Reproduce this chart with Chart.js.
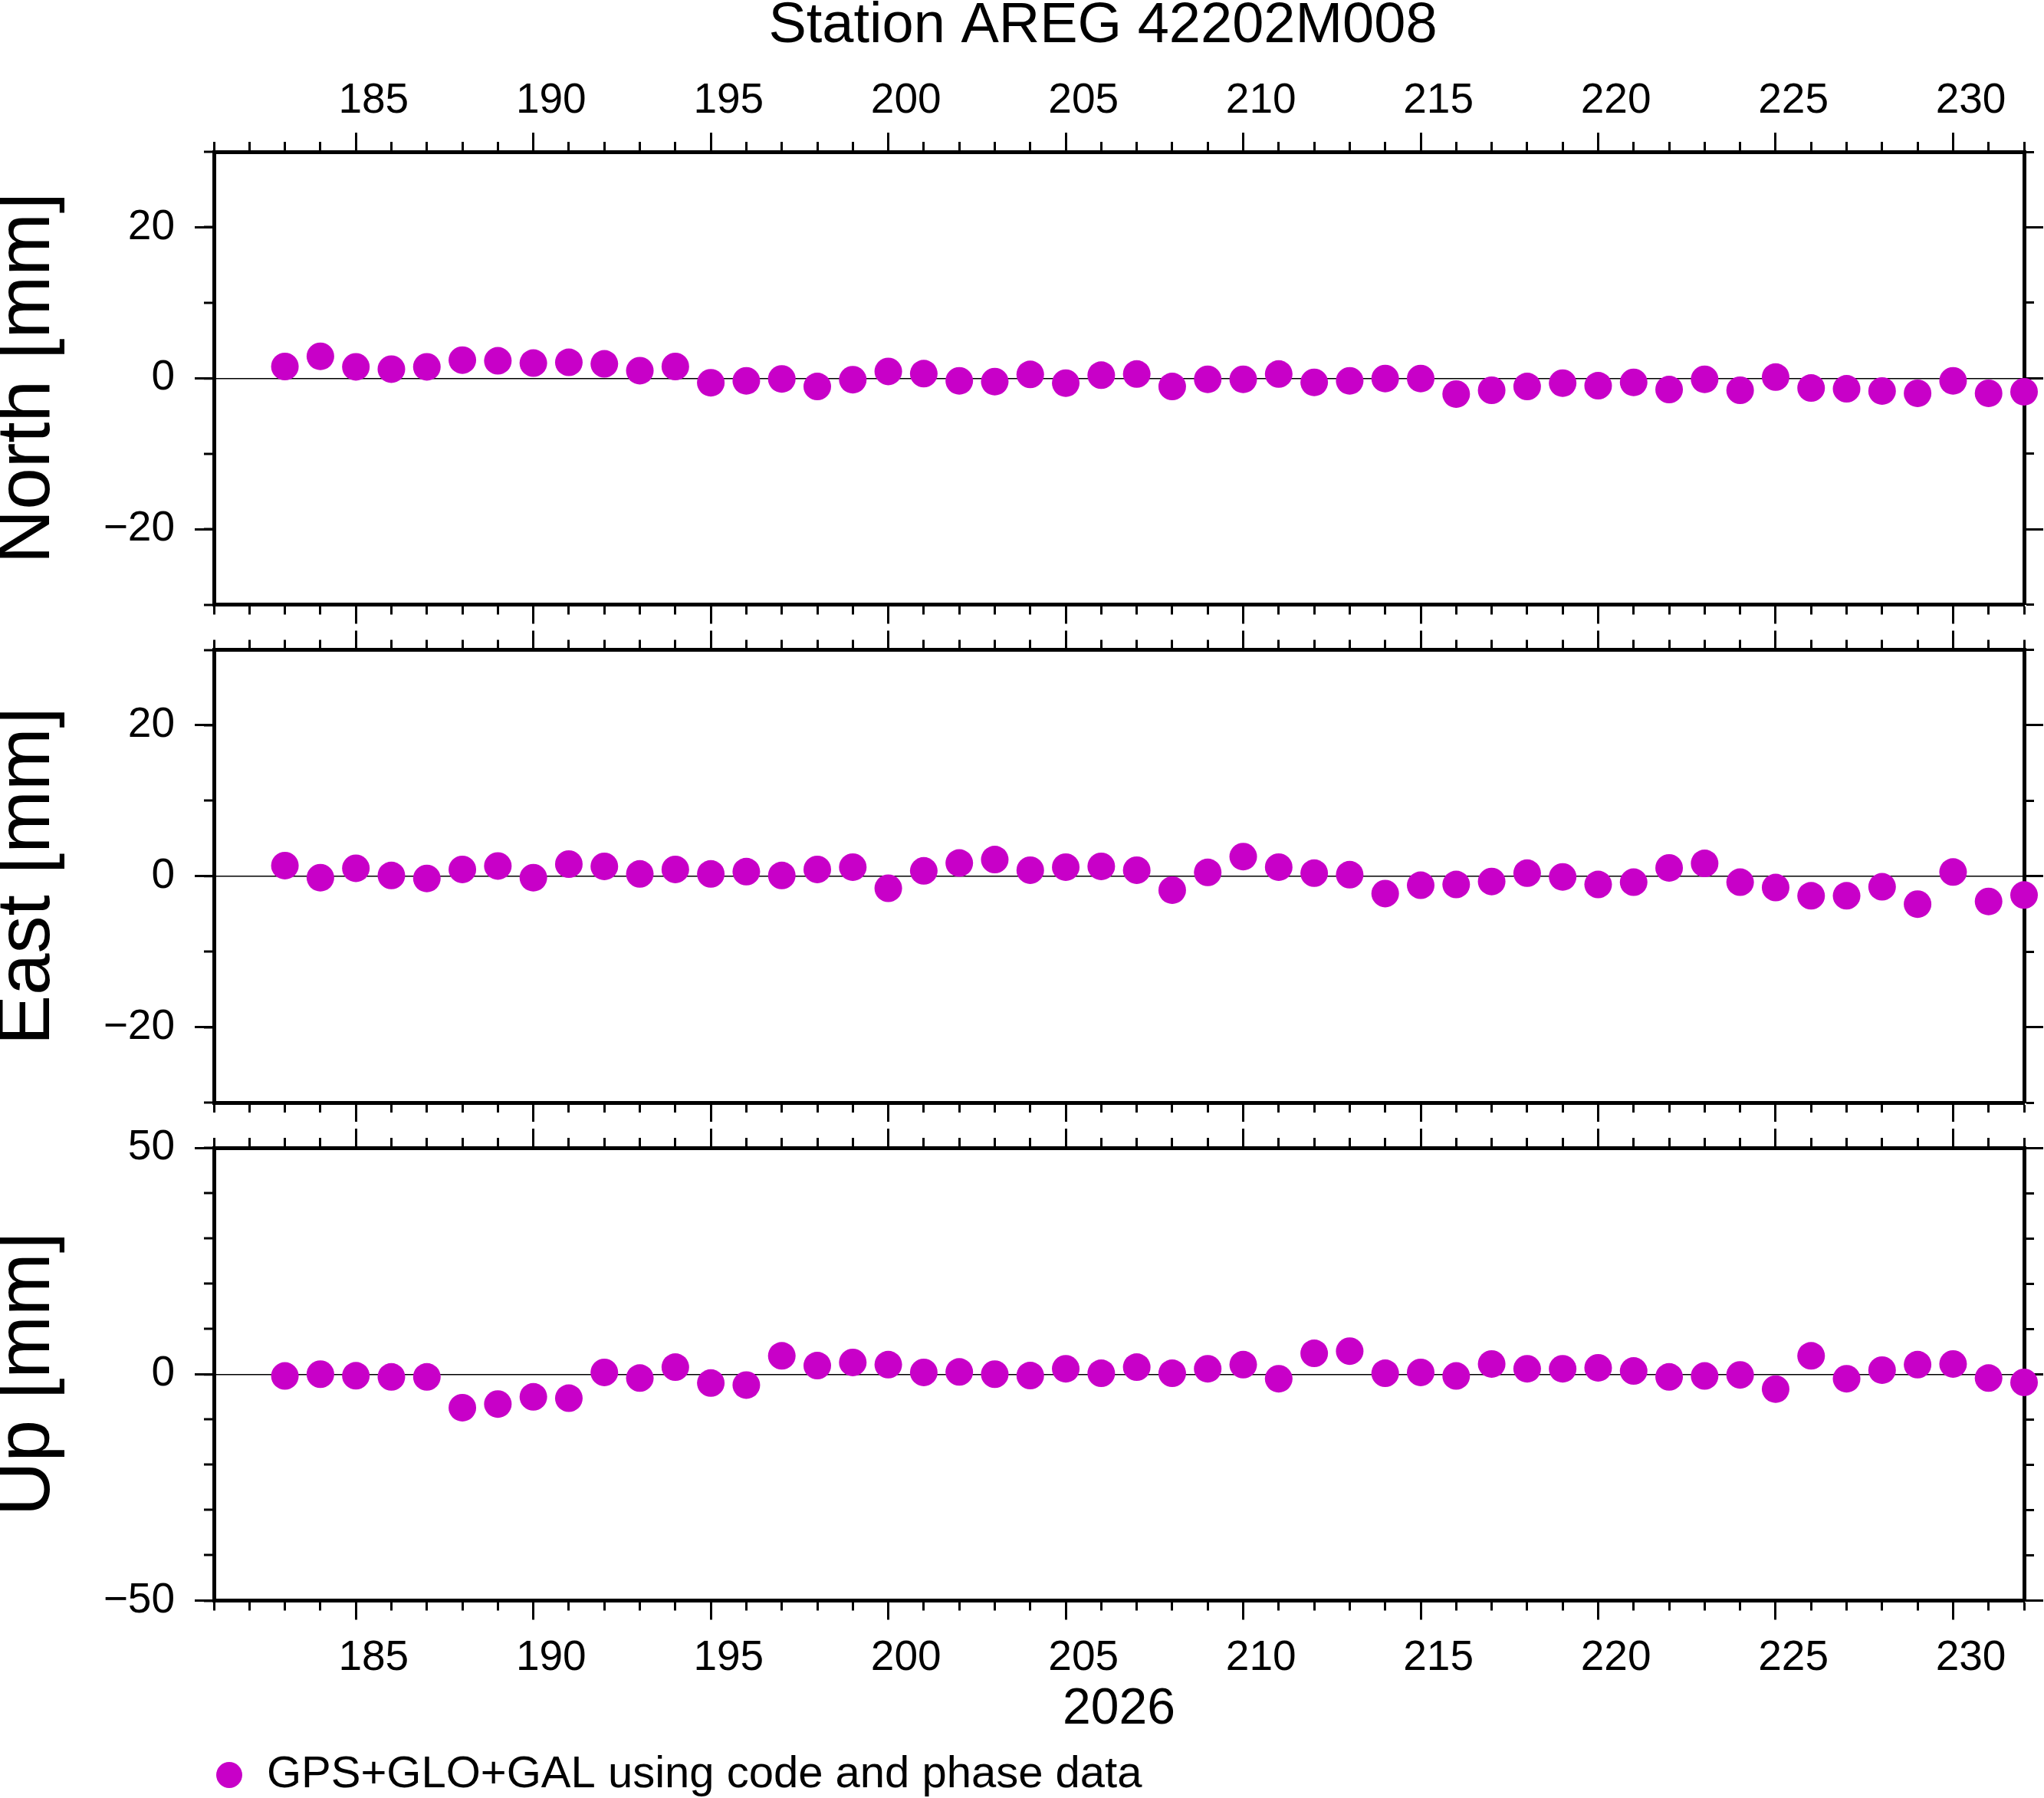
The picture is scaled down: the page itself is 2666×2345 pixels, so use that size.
<!DOCTYPE html>
<html>
<head>
<meta charset="utf-8">
<title>Station AREG 42202M008</title>
<script src="https://cdn.jsdelivr.net/npm/chart.js@4.4.1/dist/chart.umd.min.js"></script>
<style>
html,body{margin:0;padding:0;background:#fff;overflow:hidden}
#page{position:relative;width:2666px;height:2345px;overflow:hidden;background:#fff}
canvas{position:absolute;left:0}
</style>
</head>
<body>
<div id="page">
<canvas id="north" width="2877" height="830" style="top:0;width:2877px;height:830px"></canvas>
<canvas id="east" width="2877" height="680" style="top:800px;width:2877px;height:680px"></canvas>
<canvas id="up" width="2877" height="914" style="top:1440px;width:2877px;height:914px"></canvas>
</div>
<script>
const title="Station AREG 42202M008";
const yearLabel="2026";
const seriesLabel="GPS+GLO+GAL using code and phase data";

// day of year of each daily solution
const days=[183,184,185,186,187,188,189,190,191,192,193,194,195,196,197,198,199,200,201,202,203,204,205,206,207,
  208,209,210,211,212,213,214,215,216,217,218,219,220,221,222,223,224,225,226,227,228,229,230,231,232];

// mm
const north=[1.55,2.9,1.5,1.2,1.5,2.4,2.3,2.0,2.1,1.9,1.0,1.55,-0.6,-0.35,-0.1,-1.1,-0.2,0.9,0.6,-0.35,-0.45,0.5,
  -0.65,0.4,0.55,-1.1,-0.15,-0.15,0.55,-0.55,-0.35,-0.05,-0.05,-2.1,-1.6,-1.1,-0.65,-1.0,-0.55,-1.5,-0.15,-1.6,
  0.15,-1.3,-1.4,-1.7,-2.0,-0.35,-2.0,-1.8];
const east=[1.4,-0.2,1.05,0.1,-0.3,0.9,1.35,-0.2,1.6,1.3,0.3,0.9,0.3,0.6,0.1,0.9,1.2,-1.6,0.7,1.75,2.2,0.8,
  1.2,1.3,0.8,-1.85,0.5,2.6,1.2,0.4,0.2,-2.3,-1.2,-1.1,-0.7,0.4,-0.1,-1.1,-0.8,1.1,1.7,-0.8,-1.5,-2.6,-2.6,-1.4,
  -3.7,0.55,-3.35,-2.5];
const up=[-0.4,0,-0.35,-0.6,-0.6,-7.4,-6.6,-5.0,-5.3,0.4,-0.85,1.55,-1.95,-2.4,4.05,1.9,2.6,2.1,0.4,0.5,0,-0.3,
  1.2,0.2,1.55,0.2,1.2,2.1,-1.0,4.6,5.1,0.2,0.4,-0.4,2.25,1.2,1.2,1.4,0.7,-0.6,-0.4,-0.15,-3.3,4.05,-1.0,0.9,
  2.1,2.25,-0.85,-1.8];

const dayLabels=[185,190,195,200,205,210,215,220,225,230];
const neTicks=[-20,0,20];
const upTicks=[-50,0,50];

const COLOR="#c800c8";
const DAY_MIN=181, DAY_MAX=232;
const CW=2877, PLOT_L=279, PLOT_R=2640;

Chart.defaults.font.family="'Liberation Sans', Arial, Helvetica, sans-serif";
Chart.defaults.color="#000";

const minus=v=>v<0?"\u2212"+(-v):String(v);
// fixed box size, and no label overflow padding pushed into the layout
const fix=(k,v)=>s=>{s[k]=v;s.paddingLeft=s.paddingRight=s.paddingTop=s.paddingBottom=0};
const tickGrid=len=>({drawOnChartArea:false,tickLength:len,tickWidth:3,tickColor:"#000"});
const frame={display:true,width:5,color:"#000"};

function frameAxes(p){
  const s={};
  const xb={type:"linear",min:DAY_MIN,max:DAY_MAX};
  ["bottom","top"].forEach(pos=>{
    const t=pos==="top"?"T":"B", h=p[pos];
    s[pos==="bottom"?"x":"xMin"+t]={...xb,position:pos,weight:0,
      ticks:{stepSize:1,display:false,autoSkip:false},
      grid:tickGrid(13),border:frame,afterFit:fix("height",0)};
    s["xMaj"+t]={...xb,position:pos,weight:1,
      afterBuildTicks:a=>{a.ticks=dayLabels.map(v=>({value:v}))},
      ticks:{display:false,autoSkip:false},
      grid:tickGrid(25),border:{display:false},afterFit:fix("height",h.major)};
    if(h.label){
      // GMT puts the day number in the middle of the day
      s["xLab"+t]={...xb,position:pos,weight:2,
        afterBuildTicks:a=>{a.ticks=dayLabels.map(v=>({value:v+0.5}))},
        ticks:{autoSkip:false,maxRotation:0,minRotation:0,padding:h.pad,
          font:{size:55,lineHeight:1},callback:(v,i)=>String(dayLabels[i])},
        grid:{display:false,drawTicks:false},border:{display:false},
        title:h.title?{display:true,text:h.title,font:{size:66,lineHeight:1},padding:{top:0,bottom:h.titlePad}}:{display:false},
        afterFit:fix("height",h.label)};
    }
  });
  const yb={type:"linear",min:p.yMin,max:p.yMax};
  s.y={...yb,position:"left",weight:0,ticks:{stepSize:10,display:false},
    grid:{drawOnChartArea:true,tickLength:13,tickWidth:3,tickColor:"#000",
      color:c=>c.tick&&c.tick.value===0?"#000":"rgba(0,0,0,0)",
      lineWidth:c=>c.tick&&c.tick.value===0?1.5:0},
    border:frame,afterFit:fix("width",0)};
  s.yMajL={...yb,position:"left",weight:1,
    afterBuildTicks:a=>{a.ticks=p.yTicks.map(v=>({value:v}))},
    ticks:{padding:26,font:{size:55,lineHeight:1},callback:v=>minus(v)},
    grid:tickGrid(25),border:{display:false},
    title:{display:true,text:p.yTitle,font:{size:98,lineHeight:0.76},padding:0},
    afterFit:fix("width",PLOT_L)};
  s.yMinR={...yb,position:"right",weight:0,ticks:{stepSize:10,display:false},
    grid:tickGrid(13),border:frame,afterFit:fix("width",0)};
  s.yMajR={...yb,position:"right",weight:1,
    afterBuildTicks:a=>{a.ticks=p.yTicks.map(v=>({value:v}))},
    ticks:{display:false},grid:tickGrid(25),border:{display:false},
    afterFit:fix("width",CW-PLOT_R)};
  return s;
}

function panel(id,values,p){
  return new Chart(document.getElementById(id),{
    type:"scatter",
    data:{datasets:[{
      label:seriesLabel,
      data:days.map((d,i)=>({x:d,y:values[i]})),
      backgroundColor:COLOR,borderColor:COLOR,borderWidth:0,
      pointRadius:18,pointHoverRadius:18,clip:false
    }]},
    options:{
      responsive:false,animation:false,events:[],
      layout:{padding:0,autoPadding:false},
      plugins:{
        legend:p.legend||{display:false},
        title:p.title||{display:false},
        tooltip:{enabled:false}
      },
      scales:frameAxes(p)
    }
  });
}

panel("north",north,{
  yMin:-30,yMax:30,yTicks:neTicks,yTitle:"North [mm]",
  top:{major:0,label:133.8,pad:38.5},
  bottom:{major:41.5},
  title:{display:true,text:title,font:{size:74,lineHeight:0.8,weight:"normal"},padding:{top:5,bottom:0},color:"#000"}
});

panel("east",east,{
  yMin:-30,yMax:30,yTicks:neTicks,yTitle:"East [mm]",
  top:{major:47.5},
  bottom:{major:42}
});

panel("up",up,{
  yMin:-50,yMax:50,yTicks:upTicks,yTitle:"Up [mm]",
  top:{major:57},
  bottom:{major:0,label:198.5,pad:47.5,title:yearLabel,titlePad:23},
  legend:{display:true,position:"bottom",align:"start",fullSize:false,
    labels:{usePointStyle:true,pointStyle:"circle",boxWidth:40,boxHeight:24,padding:0,
      color:"#000",font:{size:58}}}
});
</script>
</body>
</html>
